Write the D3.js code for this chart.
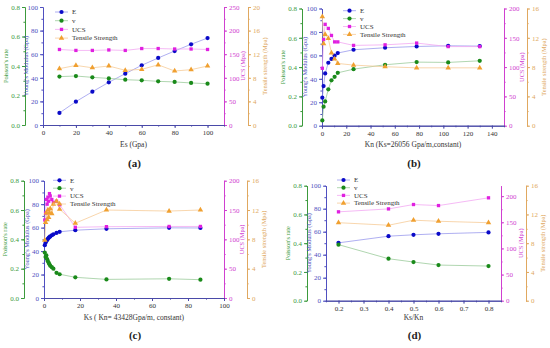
<!DOCTYPE html>
<meta charset="utf-8">
<style>
body { margin: 0; background: #fff; }
text { font-family: "Liberation Serif", serif; }
</style>
<svg width="550" height="348"></svg>
<script src="https://cdn.jsdelivr.net/npm/d3@7"></script>
<script>

// ---- data ----
var aX   = [10, 20, 30, 40, 50, 60, 70, 80, 90, 100];
var aE   = [10.2, 19.8, 28.2, 36.2, 43.5, 50.6, 56.8, 62.7, 68.4, 73.7];
var aV   = [0.328, 0.332, 0.323, 0.316, 0.307, 0.303, 0.296, 0.292, 0.285, 0.280];
var aUCS = [160, 158, 158, 159, 158, 162, 162, 161, 161, 160];
var aTS  = [9.55, 10.1, 9.7, 10.0, 9.27, 9.43, 10.2, 9.15, 9.38, 10.0];

var bX   = [0.26, 1.3, 2.6, 5.2, 7.8, 10.4, 13, 26, 52, 78, 104, 130];
var bE   = [23.9, 33.8, 44.6, 53.7, 57, 59.7, 62, 64.8, 66.5, 67.6, 68.2, 67.9];
var bV   = [0.036, 0.13, 0.166, 0.248, 0.31, 0.334, 0.361, 0.386, 0.416, 0.434, 0.432, 0.443];
var bUCS = [98, 147, 173, 166, 154, 143, 143, 137, 138, 141, 135, 135];
var bTS  = [14.9, 11.2, 12.45, 11.9, 9.95, 9.1, 8.5, 8.27, 8.05, 7.9, 7.9, 7.9];

var cX   = [0.43, 0.87, 1.3, 1.74, 2.17, 2.6, 3.04, 3.47, 4.34, 5.21, 6.95, 8.69, 17.4, 34.7, 69.5, 86.9];
var cE   = [45, 47, 48.5, 49.5, 50.5, 51.3, 52, 52.5, 53.5, 54.3, 55.5, 56.4, 57.8, 59, 59.8, 59.7];
var cV   = [0.31, 0.28, 0.29, 0.265, 0.25, 0.24, 0.23, 0.22, 0.21, 0.2, 0.172, 0.162, 0.141, 0.127, 0.131, 0.125];
var cUCS = [133, 145, 168, 160, 172, 165, 178, 174, 168, 163, 165, 159, 120.5, 121.6, 122, 122];
var cTS  = [7.9, 10.3, 11.6, 10.7, 12, 11, 11.6, 12.2, 11.5, 12.8, 13.2, 12.1, 10.2, 12, 11.86, 12];

var dX   = [0.2, 0.4, 0.5, 0.6, 0.8];
var dE   = [50.3, 56.1, 57.3, 58.2, 59.4];
var dV   = [0.39, 0.292, 0.269, 0.248, 0.241];
var dUCS = [170, 175.6, 184, 182, 196.8];
var dTS  = [10.85, 10.5, 11.2, 11.05, 10.85];

var seriesNames = ["E", "v", "UCS", "Tensile Strength"];
var vTicks = [0, 0.2, 0.4, 0.6, 0.8];
var eTicks = [0, 20, 40, 60, 80, 100];

// colours
var col = {
  E:   {axis: "#5050c0", mark: "#0a0ac8", line: "#9a9aee"},
  v:   {axis: "#3c9a3c", mark: "#1a8a1a", line: "#9ccc9c"},
  UCS: {axis: "#d040d0", mark: "#e020e0", line: "#f2a8f2"},
  TS:  {axis: "#e0a860", mark: "#f0a030", line: "#f6cc98"}
};

var svg = d3.select("svg");

var panels = [
  {x: aX, E: aE, v: aV, ucs: aUCS, ts: aTS, xDom: [0, 110], xTicks: [0, 20, 40, 60, 80, 100], xMinor: d3.range(0, 111, 10),
   ucsDom: [0, 250], ucsTicks: [0, 50, 100, 150, 200, 250], tsDom: [0, 20], tsTicks: [0, 4, 8, 12, 16, 20],
   gL: 25, left: 43, right: 224, oR: 248, top: 7, bottom: 125, xFmt: d3.format("d"),
   xLabel: "Es (Gpa)", xLabelY: 147, tag: "(a)", tagY: 167, leg: [55, 12, 8.7]},
  {x: bX, E: bE, v: bV, ucs: bUCS, ts: bTS, xDom: [0, 150], xTicks: [0, 20, 40, 60, 80, 100, 120, 140], xMinor: d3.range(0, 151, 10),
   ucsDom: [0, 200], ucsTicks: [0, 50, 100, 150, 200], tsDom: [0, 16], tsTicks: [0, 4, 8, 12, 16],
   gL: 302, left: 322, right: 504, oR: 527, top: 8.5, bottom: 125.7, xFmt: d3.format("d"),
   xLabel: "Kn (Ks=26056 Gpa/m,constant)", xLabelY: 147, tag: "(b)", tagY: 167, leg: [343, 10.7, 7.9]},
  {x: cX, E: cE, v: cV, ucs: cUCS, ts: cTS, xDom: [0, 100], xTicks: [0, 20, 40, 60, 80, 100], xMinor: d3.range(0, 101, 10),
   ucsDom: [0, 200], ucsTicks: [0, 50, 100, 150, 200], tsDom: [0, 16], tsTicks: [0, 4, 8, 12, 16],
   gL: 24, left: 44, right: 224, oR: 247, top: 180.7, bottom: 298, xFmt: d3.format("d"),
   xLabel: "Ks ( Kn= 43428Gpa/m, constant)", xLabelY: 319.5, tag: "(c)", tagY: 339, leg: [53, 180.3, 7.9]},
  {x: dX, E: dE, v: dV, ucs: dUCS, ts: dTS, xDom: [0.15, 0.85], xTicks: [0.2, 0.3, 0.4, 0.5, 0.6, 0.7, 0.8], xMinor: d3.range(0.15, 0.851, 0.05),
   ucsDom: [0, 220], ucsTicks: [0, 50, 100, 150, 200], tsDom: [0, 16], tsTicks: [0, 4, 8, 12, 16],
   gL: 307, left: 326, right: 501, oR: 526, top: 185.7, bottom: 300.7, xFmt: d3.format(".1f"),
   xLabel: "Ks/Kn", xLabelY: 319.5, tag: "(d)", tagY: 339, leg: [337, 180, 7.7]}
];

panels.forEach(drawPanel);

function yAxis(g, scale, ticks, fmt, xPos, side, c, minorStep) {
  var ax = (side === "left" ? d3.axisLeft(scale) : d3.axisRight(scale))
      .tickValues(ticks).tickFormat(fmt).tickSize(3).tickSizeOuter(0).tickPadding(2);
  var minor = d3.range(scale.domain()[0], scale.domain()[1] + 1e-9, minorStep);
  var axm = (side === "left" ? d3.axisLeft(scale) : d3.axisRight(scale))
      .tickValues(minor).tickFormat("").tickSize(1.6).tickSizeOuter(0);
  g.append("g").attr("transform", "translate(" + xPos + ",0)").call(axm)
    .call(function(s) { s.selectAll("path,line").attr("stroke", c); });
  var a = g.append("g").attr("transform", "translate(" + xPos + ",0)").call(ax);
  a.selectAll("path,line").attr("stroke", c);
  a.selectAll("text").attr("fill", c).style("font-size", "7px").style("font-family", "Liberation Serif");
}

function drawPanel(p) {
  var g = svg.append("g");
  var x = d3.scaleLinear().domain(p.xDom).range([p.left, p.right]);
  var yE = d3.scaleLinear().domain([0, 100]).range([p.bottom, p.top]);
  var yV = d3.scaleLinear().domain([0, 0.8]).range([p.bottom, p.top]);
  var yU = d3.scaleLinear().domain(p.ucsDom).range([p.bottom, p.top]);
  var yT = d3.scaleLinear().domain(p.tsDom).range([p.bottom, p.top]);

  // y axes
  yAxis(g, yV, vTicks, d3.format(".1f"), p.gL, "left", col.v.axis, 0.1);
  yAxis(g, yE, eTicks, d3.format("d"), p.left, "left", col.E.axis, 10);
  yAxis(g, yU, p.ucsTicks, d3.format("d"), p.right, "right", col.UCS.axis, 25);
  yAxis(g, yT, p.tsTicks, d3.format("d"), p.oR, "right", col.TS.axis, 2);

  // x axis
  var xa = g.append("g").attr("transform", "translate(0," + p.bottom + ")")
    .call(d3.axisBottom(x).tickValues(p.xMinor).tickFormat("").tickSize(1.6).tickSizeOuter(0));
  xa.selectAll("path,line").attr("stroke", "#4a4aa8");
  var xb = g.append("g").attr("transform", "translate(0," + p.bottom + ")")
    .call(d3.axisBottom(x).tickValues(p.xTicks).tickFormat(p.xFmt).tickSize(3).tickSizeOuter(0).tickPadding(2));
  xb.selectAll("path,line").attr("stroke", "#4a4aa8");
  xb.selectAll("text").attr("fill", "#333").style("font-size", "7px").style("font-family", "Liberation Serif");

  // axis titles
  var titles = [
    {t: "Poisson's rate", x: p.gL - 17, c: col.v.axis},
    {t: "Young's Modulus (Gpa)", x: p.left - 15, c: col.E.axis},
    {t: "UCS (Mpa)", x: p.oR - 3, c: col.UCS.axis},
    {t: "Tensile strength (Mpa)", x: p.oR + 19, c: col.TS.axis}
  ];
  var midY = (p.top + p.bottom) / 2;
  titles.forEach(function(d) {
    g.append("text").attr("transform", "translate(" + d.x + "," + midY + ") rotate(-90)")
      .attr("text-anchor", "middle").attr("fill", d.c).style("font-size", "6.3px").text(d.t);
  });

  g.append("text").attr("x", (p.left + p.right) / 2).attr("y", p.xLabelY)
    .attr("text-anchor", "middle").attr("fill", "#333").style("font-size", "7.5px").text(p.xLabel);
  g.append("text").attr("x", (p.left + p.right) / 2 + 1).attr("y", p.tagY)
    .attr("text-anchor", "middle").attr("fill", "#222").style("font-size", "11px").style("font-weight", "bold").text(p.tag);

  // series
  var series = [
    {vals: p.E, y: yE, c: col.E, shape: "circle"},
    {vals: p.v, y: yV, c: col.v, shape: "circle"},
    {vals: p.ucs, y: yU, c: col.UCS, shape: "square"},
    {vals: p.ts, y: yT, c: col.TS, shape: "triangle"}
  ];
  series.forEach(function(s) {
    var pts = p.x.map(function(xv, i) { return [xv, s.vals[i]]; });
    g.append("path").datum(pts)
      .attr("fill", "none").attr("stroke", s.c.line).attr("stroke-width", 0.8)
      .attr("d", d3.line().x(function(d) { return x(d[0]); }).y(function(d) { return s.y(d[1]); }));
  });
  series.forEach(function(s) {
    var pts = p.x.map(function(xv, i) { return [xv, s.vals[i]]; });
    g.selectAll(null).data(pts).enter().append("path")
      .attr("transform", function(d) { return "translate(" + x(d[0]) + "," + s.y(d[1]) + ")"; })
      .attr("fill", s.c.mark)
      .attr("d", marker(s.shape));
  });

  // legend
  var lx = p.leg[0], ly = p.leg[1], ld = p.leg[2];
  series.forEach(function(s, i) {
    var yy = ly + i * ld;
    g.append("line").attr("x1", lx).attr("x2", lx + 13).attr("y1", yy).attr("y2", yy)
      .attr("stroke", s.c.line).attr("stroke-width", 0.8);
    g.append("path").attr("transform", "translate(" + (lx + 6.5) + "," + yy + ")")
      .attr("fill", s.c.mark).attr("d", marker(s.shape));
    g.append("text").attr("x", lx + 17).attr("y", yy + 2.3).attr("fill", "#333")
      .style("font-size", "7px").text(seriesNames[i]);
  });
}

function marker(shape) {
  if (shape === "square") return d3.symbol(d3.symbolSquare, 11)();
  if (shape === "triangle") return d3.symbol(d3.symbolTriangle, 13)();
  return d3.symbol(d3.symbolCircle, 14)();
}

</script>
